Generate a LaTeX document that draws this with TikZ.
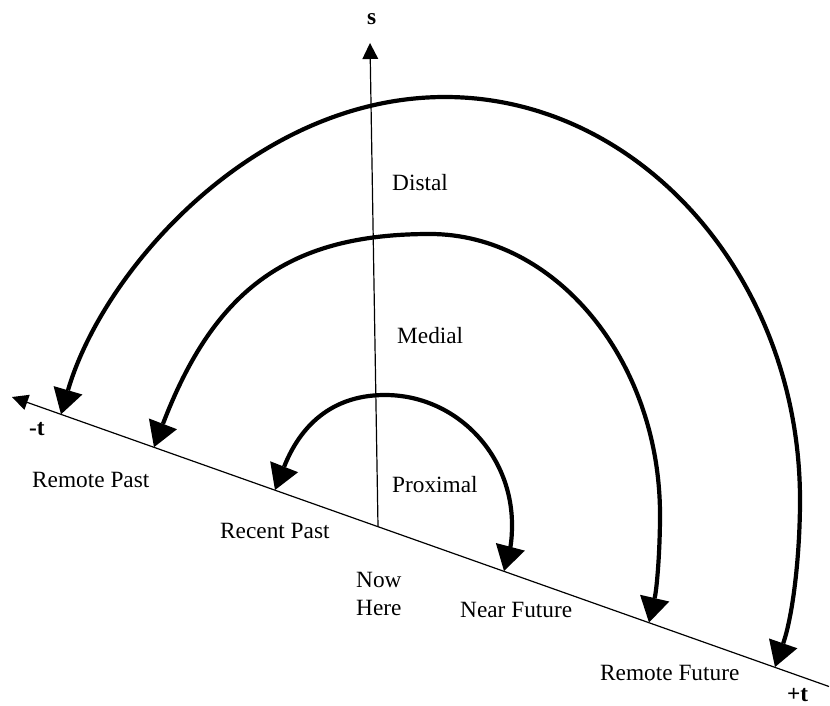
\documentclass[tikz,border=0pt]{standalone}
\usepackage{fontspec}
\setmainfont{Liberation Serif}
\usetikzlibrary{arrows.meta}
\begin{document}
\begin{tikzpicture}[x=1pt,y=-1pt,
  axisline/.style={line width=1.2pt,-{Triangle[length=16pt,width=16pt,line width=0pt]}},
  arcline/.style={line width=4.2pt,
    {Triangle[length=25pt,width=30pt,line width=0pt]}-{Triangle[length=25pt,width=30pt,line width=0pt]}},
  lbl/.style={anchor=base west,inner sep=0pt,font=\fontsize{23.3}{28}\selectfont},
  blbl/.style={anchor=base west,inner sep=0pt,font=\fontsize{23.3}{28}\selectfont\bfseries}]
\useasboundingbox (0,0) rectangle (830,706);

% axes
\coordinate (tL) at (12,397);
\coordinate (tR) at (829,686.5);
\coordinate (O) at (378,526.5);
\coordinate (sTop) at (370,43);
\draw[axisline] (tR) -- (tL);
\draw[axisline] (O) -- (sTop);

% arc end points on the t axis
\coordinate (oL) at (61,414.3);
\coordinate (oR) at (775,667);
\coordinate (mL) at (154,447.2);
\coordinate (mR) at (649,622.5);
\coordinate (iL) at (275,490);
\coordinate (iR) at (504,571);
% arc apexes
\coordinate (oT) at (445,97);
\coordinate (oE) at (800,500);
\coordinate (mT) at (430,234);
\coordinate (mE) at (660,515);
\coordinate (iT) at (385,395);
\coordinate (iE) at (512,525);

% outer arc (Distal)
\draw[arcline] (oL) .. controls (103,270) and (255,97) .. (oT)
  .. controls (640,97) and (800,278) .. (oE)
  .. controls (800,555) and (793,615) .. (oR);

% middle arc (Medial)
\draw[arcline] (mL) .. controls (215,288) and (290,234) .. (mT)
  .. controls (555,234) and (660,360) .. (mE)
  .. controls (660,550) and (657,588) .. (mR);

% inner arc (Proximal)
\draw[arcline] (iL) .. controls (297,434) and (325,395) .. (iT)
  .. controls (455,395) and (512,453) .. (iE)
  .. controls (512,545) and (509,552) .. (iR);

% labels
\node[blbl] (s) at (367,25) {s};
\node[blbl] (mt) at (29,435) {-t};
\node[blbl] (pt) at (787,701) {+t};
\node[lbl] (rp) at (32,487) {Remote Past};
\node[lbl] (rcp) at (220,538) {Recent Past};
\node[lbl] (now) at (356,587) {Now};
\node[lbl] (here) at (356,615) {Here};
\node[lbl] (nf) at (460,617) {Near Future};
\node[lbl] (rf) at (600,680) {Remote Future};
\node[lbl] (prox) at (392,492) {Proximal};
\node[lbl] (med) at (397,343) {Medial};
\node[lbl] (dist) at (392,190) {Distal};
\end{tikzpicture}
\end{document}
